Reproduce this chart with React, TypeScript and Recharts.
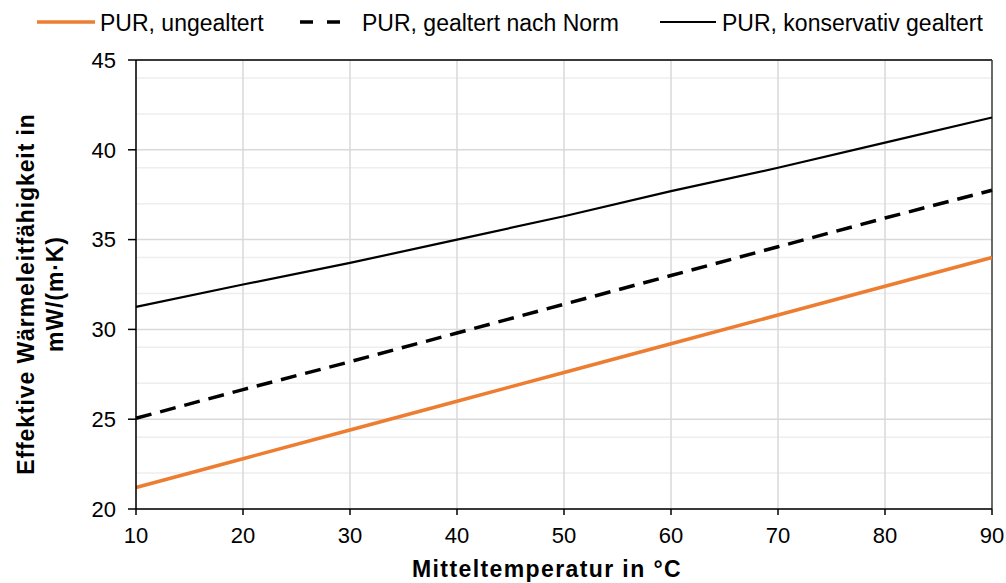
import React from 'react';
import { LineChart, Line, XAxis, YAxis, CartesianGrid, Legend, ReferenceLine, Label } from 'recharts';

const temperatures = [10, 20, 30, 40, 50, 60, 70, 80, 90];
const ungealtert = [21.2, 22.8, 24.4, 26.0, 27.6, 29.2, 30.8, 32.4, 34.0];
const nachNorm = [25.05, 26.65, 28.2, 29.8, 31.4, 33.0, 34.6, 36.2, 37.75];
const konservativ = [31.25, 32.5, 33.7, 35.0, 36.3, 37.7, 39.0, 40.4, 41.8];

const xTicks = [10, 20, 30, 40, 50, 60, 70, 80, 90];
const yTicks = [20, 25, 30, 35, 40, 45];
const yMinor = [21, 22, 23, 24, 26, 27, 28, 29, 31, 32, 33, 34, 36, 37, 38, 39, 41, 42, 43, 44];

const seriesNames = ['PUR, ungealtert', 'PUR, gealtert nach Norm', 'PUR, konservativ gealtert'];
const xTitle = 'Mitteltemperatur in °C';
const yTitle1 = 'Effektive Wärmeleitfähigkeit in';
const yTitle2 = 'mW/(m·K)';

const rows = temperatures.map((t, i) => ({
  t,
  a: ungealtert[i],
  b: nachNorm[i],
  c: konservativ[i],
}));

const FONT = '"Liberation Sans", Arial, sans-serif';
const ORANGE = '#ED7D31';

const renderLegend = () => (
  <svg width={1006} height={42} style={{ display: 'block' }}>
    <line x1={37} x2={95} y1={22} y2={22} stroke={ORANGE} strokeWidth={3.5} />
    <text x={100} y={31} fontFamily={FONT} fontSize={23} fill="#000">{seriesNames[0]}</text>
    <line x1={300} x2={341} y1={22} y2={22} stroke="#000" strokeWidth={3.5} strokeDasharray="13 14" />
    <text x={362} y={31} fontFamily={FONT} fontSize={23} fill="#000">{seriesNames[1]}</text>
    <line x1={660} x2={716} y1={22} y2={22} stroke="#000" strokeWidth={2.2} />
    <text x={722} y={31} fontFamily={FONT} fontSize={23} fill="#000">{seriesNames[2]}</text>
  </svg>
);

const YTitle = () => {
  const cy = 294;
  return (
    <g>
      <text x={34} y={cy} transform={`rotate(-90, 34, ${cy})`} textAnchor="middle" fontFamily={FONT} fontWeight="bold" fontSize={23} letterSpacing={0.9} fill="#000">{yTitle1}</text>
      <text x={63} y={cy} transform={`rotate(-90, 63, ${cy})`} textAnchor="middle" fontFamily={FONT} fontWeight="bold" fontSize={23} letterSpacing={0.9} fill="#000">{yTitle2}</text>
    </g>
  );
};

const XTitle = () => (
  <text x={547} y={577} textAnchor="middle" fontFamily={FONT} fontWeight="bold" fontSize={23} letterSpacing={1.4} fill="#000">{xTitle}</text>
);

export default function App() {
  return (
    <div style={{ position: 'absolute', left: 0, top: 0, width: 1006, height: 583, background: '#fff' }}>
      <LineChart width={1006} height={583} data={rows} margin={{ top: 18, right: 14, left: 0, bottom: 0 }}>
        <CartesianGrid horizontalValues={yMinor} vertical={false} stroke="#eeeeee" strokeWidth={1.5} />
        <CartesianGrid horizontalValues={yTicks} verticalValues={xTicks} stroke="#d9d9d9" strokeWidth={1.5} />
        <XAxis
          dataKey="t"
          type="number"
          domain={[10, 90]}
          ticks={xTicks}
          height={74}
          tickSize={6}
          tickMargin={12}
          axisLine={{ stroke: '#000', strokeWidth: 1.5 }}
          tickLine={{ stroke: '#000', strokeWidth: 1.5 }}
          tick={{ fill: '#000', fontSize: 22, fontFamily: FONT }}
        >
          <Label content={XTitle} />
        </XAxis>
        <YAxis
          type="number"
          domain={[20, 45]}
          ticks={yTicks}
          width={136}
          tickSize={8}
          tickMargin={12}
          axisLine={{ stroke: '#000', strokeWidth: 1.5 }}
          tickLine={{ stroke: '#000', strokeWidth: 1.5 }}
          tick={{ fill: '#000', fontSize: 22, fontFamily: FONT }}
        >
          <Label content={YTitle} />
        </YAxis>
        <ReferenceLine y={45} stroke="#000" strokeWidth={1.5} />
        <ReferenceLine x={90} stroke="#404040" strokeWidth={1.5} />
        <Legend content={renderLegend} verticalAlign="top" wrapperStyle={{ position: 'absolute', top: 0, left: 0, width: 1006, height: 42 }} />
        <Line dataKey="a" name={seriesNames[0]} stroke={ORANGE} strokeWidth={3.5} dot={false} isAnimationActive={false} />
        <Line dataKey="b" name={seriesNames[1]} stroke="#000" strokeWidth={3.5} strokeDasharray="16 9" dot={false} isAnimationActive={false} />
        <Line dataKey="c" name={seriesNames[2]} stroke="#000" strokeWidth={2.2} dot={false} isAnimationActive={false} />
      </LineChart>
    </div>
  );
}
